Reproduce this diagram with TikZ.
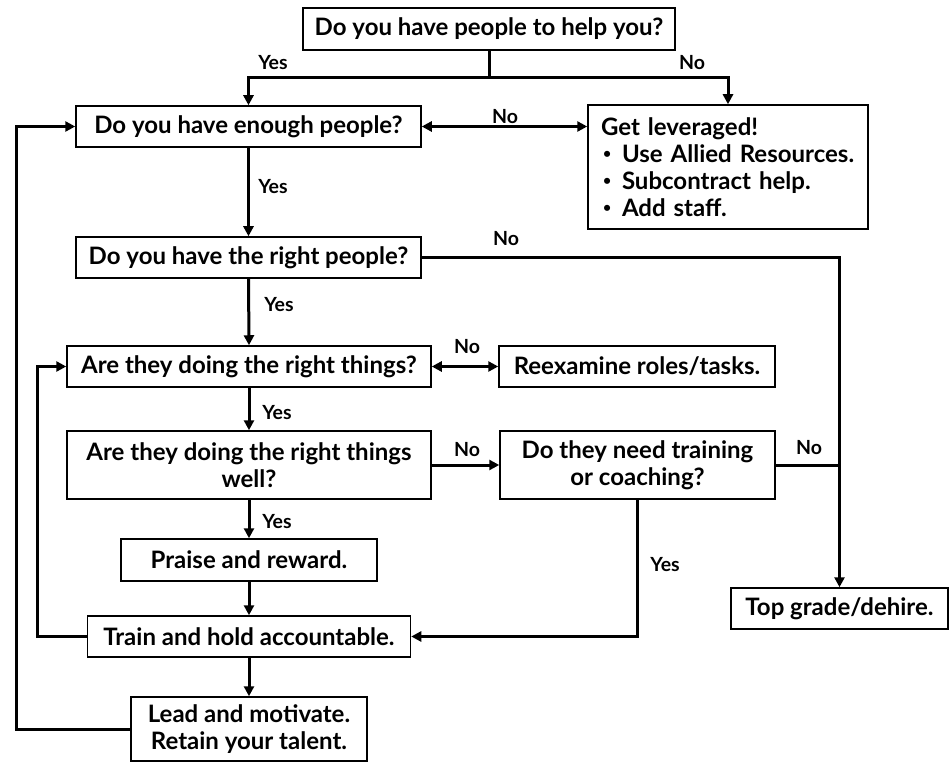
\documentclass[tikz,border=0pt]{standalone}
\usepackage{fontspec}
\setmainfont{Lato}
\usetikzlibrary{arrows.meta}
\newcommand{\lbullet}{\makebox[21pt][l]{\hspace{2pt}\raisebox{3.5pt}{\fontsize{14}{14}\selectfont\textbullet}}}

\begin{document}
\begin{tikzpicture}[x=1pt, y=-1pt,
    box/.style={draw, line width=1.5pt, inner sep=0pt, align=center,
      font=\bfseries\fontsize{24}{27}\selectfont},
    tag/.style={font=\bfseries\fontsize{19.5}{22}\selectfont},
    wire/.style={line width=3pt},
    link/.style={line width=3pt, -{Triangle[length=10pt,width=10pt]}},
    twoway/.style={line width=3pt, {Triangle[length=10pt,width=10pt]}-{Triangle[length=10pt,width=10pt]}}]
          \useasboundingbox (0,0) rectangle (951,762);
          \node[box, minimum width=372pt, minimum height=42pt] (help) at (489,29) {Do you have people to help you?};
          \node[box, minimum width=345pt, minimum height=41pt] (enough) at (248.5,126.5) {Do you have enough people?};
          \node[box, minimum width=280pt, minimum height=124pt, text width=254pt, inner xsep=13pt, align=left] (lever) at (728,167)
            {Get leveraged!\\
             \lbullet Use Allied Resources.\\
             \lbullet Subcontract help.\\
             \lbullet Add staff.};
          \node[box, minimum width=345pt, minimum height=41pt] (right) at (248.5,257.5) {Do you have the right people?};
          \node[box, minimum width=364pt, minimum height=41pt] (doing) at (249,366.5) {Are they doing the right things?};
          \node[box, minimum width=276pt, minimum height=41pt] (reexam) at (637,366.5) {Reexamine roles/tasks.};
          \node[box, minimum width=364pt, minimum height=68pt] (well) at (249,465) {Are they doing the right things\\ well?};
          \node[box, minimum width=275pt, minimum height=68pt] (coach) at (637.5,465) {Do they need training\\ or coaching?};
          \node[box, minimum width=256pt, minimum height=42pt] (praise) at (249,560) {Praise and reward.};
          \node[box, minimum width=323pt, minimum height=41pt] (hold) at (249,636.5) {Train and hold accountable.};
          \node[box, minimum width=236pt, minimum height=64pt] (lead) at (249,729) {Lead and motivate.\\ Retain your talent.};
          \node[box, minimum width=217pt, minimum height=41pt] (dehire) at (839.5,608.5) {Top grade/dehire.};
          \coordinate (split) at (489,78);
          \coordinate (outer) at (16,729);
          \coordinate (inner) at (37,636.5);
          \draw[wire] (help.south) -- (split);
          \draw[link] (split) -| (enough.north);
          \draw[link] (split) -| (lever.north);
          \draw[twoway] (enough.east) -- (enough.east -| lever.west);
          \draw[link] (enough.south) -- (right.north);
          \draw[link] (right.east) -| (dehire.north);
          \draw[link] (right.south) -- (doing.north);
          \draw[twoway] (doing.east) -- (reexam.west);
          \draw[link] (doing.south) -- (well.north);
          \draw[link] (well.east) -- (coach.west);
          \draw[wire] (coach.east) -- (coach.east -| dehire.north);
          \draw[link] (well.south) -- (praise.north);
          \draw[link] (praise.south) -- (hold.north);
          \draw[link] (coach.south) |- (hold.east);
          \draw[link] (hold.south) -- (lead.north);
          \draw[link] (hold.west) -- (inner) |- (doing.west);
          \draw[link] (lead.west) -- (outer) |- (enough.west);
          \node[tag] (yes1) at (273,63) {Yes};
          \node[tag] (no1) at (692,63) {No};
          \node[tag] (no2) at (505,116.5) {No};
          \node[tag] (yes2) at (273,187) {Yes};
          \node[tag] (no3) at (506,239) {No};
          \node[tag] (yes3) at (279,305) {Yes};
          \node[tag] (no4) at (467,347) {No};
          \node[tag] (yes4) at (277,413) {Yes};
          \node[tag] (no5) at (467,450) {No};
          \node[tag] (no6) at (809,448) {No};
          \node[tag] (yes5) at (277,522) {Yes};
          \node[tag] (yes6) at (665,565) {Yes};
        \end{tikzpicture}
\end{document}
